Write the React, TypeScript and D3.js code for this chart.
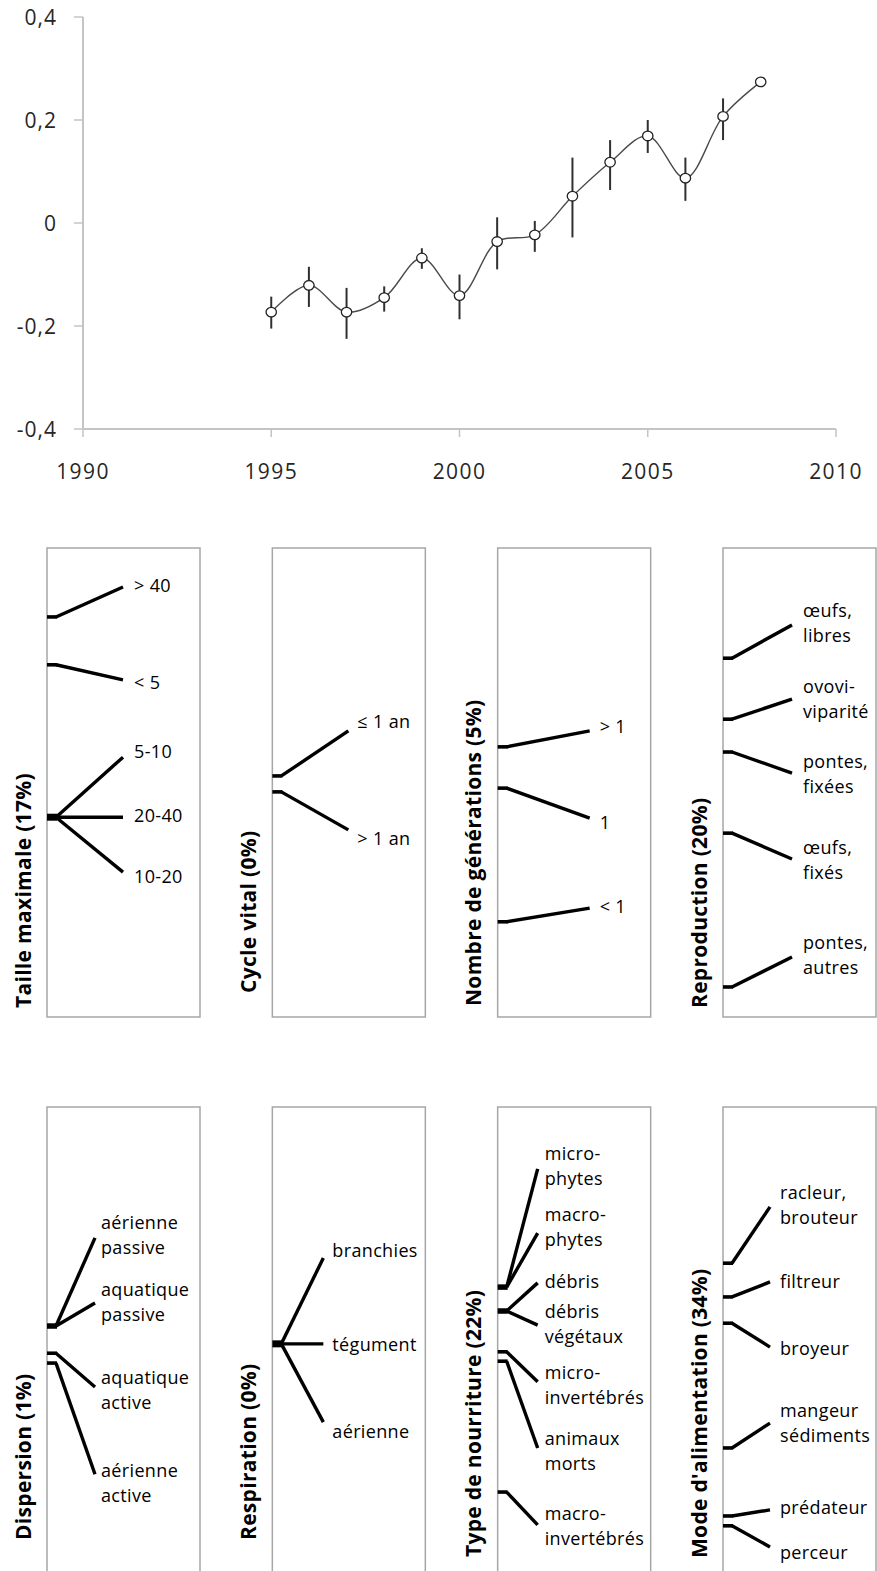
import React from 'react';
import * as d3 from 'd3';

// ---------- Top chart data ----------
const years = [1995, 1996, 1997, 1998, 1999, 2000, 2001, 2002, 2003, 2004, 2005, 2006, 2007, 2008];
const meanValues = [-0.173, -0.121, -0.173, -0.145, -0.068, -0.141, -0.036, -0.023, 0.052, 0.118, 0.169, 0.087, 0.207, 0.274];
const errHigh = [-0.143, -0.085, -0.126, -0.123, -0.049, -0.100, 0.011, 0.004, 0.127, 0.161, 0.200, 0.127, 0.242, 0.274];
const errLow = [-0.205, -0.163, -0.225, -0.172, -0.089, -0.187, -0.090, -0.056, -0.028, 0.064, 0.136, 0.043, 0.161, 0.274];
const yTicks = [0.4, 0.2, 0, -0.2, -0.4];
const xTicks = [1990, 1995, 2000, 2005, 2010];

// ---------- Trait panels (positions on a 0-100 scale from panel top) ----------
type Branch = { label: string[]; to: number; lab?: number };
type Node = { at: number; branches: Branch[] };

const tailleMaximale: Node[] = [
  { at: 14.7, branches: [{ label: ['> 40'], to: 8.3, lab: 7.9 }] },
  { at: 24.9, branches: [{ label: ['< 5'], to: 28.1, lab: 28.6 }] },
  {
    at: 57.4,
    branches: [
      { label: ['5-10'], to: 44.6, lab: 43.3 },
      { label: ['20-40'], to: 57.4, lab: 57.1 },
      { label: ['10-20'], to: 69.1, lab: 70.1 },
    ],
  },
];
const cycleVital: Node[] = [
  { at: 48.6, branches: [{ label: ['≤ 1 an'], to: 39.0, lab: 37.1 }] },
  { at: 52.0, branches: [{ label: ['> 1 an'], to: 60.1, lab: 62.0 }] },
];
const nombreGenerations: Node[] = [
  { at: 42.4, branches: [{ label: ['> 1'], to: 39.0, lab: 38.0 }] },
  { at: 51.2, branches: [{ label: ['1'], to: 57.6, lab: 58.6 }] },
  { at: 79.7, branches: [{ label: ['< 1'], to: 76.8, lab: 76.5 }] },
];
const reproduction: Node[] = [
  { at: 23.5, branches: [{ label: ['œufs,', 'libres'], to: 16.4, lab: 16.0 }] },
  { at: 36.5, branches: [{ label: ['ovovi-', 'viparité'], to: 32.2, lab: 32.1 }] },
  { at: 43.5, branches: [{ label: ['pontes,', 'fixées'], to: 48.0, lab: 48.2 }] },
  { at: 60.8, branches: [{ label: ['œufs,', 'fixés'], to: 66.3, lab: 66.5 }] },
  { at: 93.6, branches: [{ label: ['pontes,', 'autres'], to: 87.2, lab: 86.7 }] },
];
const dispersion: Node[] = [
  {
    at: 46.7,
    branches: [
      { label: ['aérienne', 'passive'], to: 27.9, lab: 27.2 },
      { label: ['aquatique', 'passive'], to: 41.8, lab: 41.5 },
    ],
  },
  { at: 52.5, branches: [{ label: ['aquatique', 'active'], to: 59.7, lab: 60.4 }] },
  { at: 54.6, branches: [{ label: ['aérienne', 'active'], to: 78.3, lab: 80.2 }] },
];
const respiration: Node[] = [
  {
    at: 50.5,
    branches: [
      { label: ['branchies'], to: 32.2, lab: 30.5 },
      { label: ['tégument'], to: 50.5, lab: 50.7 },
      { label: ['aérienne'], to: 67.2, lab: 69.3 },
    ],
  },
];
const typeNourriture: Node[] = [
  {
    at: 38.4,
    branches: [
      { label: ['micro-', 'phytes'], to: 13.2, lab: 12.6 },
      { label: ['macro-', 'phytes'], to: 26.9, lab: 25.5 },
    ],
  },
  {
    at: 43.5,
    branches: [
      { label: ['débris'], to: 37.5, lab: 37.3 },
      { label: ['débris', 'végétaux'], to: 46.5, lab: 46.3 },
    ],
  },
  { at: 52.2, branches: [{ label: ['micro-', 'invertébrés'], to: 58.6, lab: 59.2 }] },
  { at: 54.2, branches: [{ label: ['animaux', 'morts'], to: 72.7, lab: 73.3 }] },
  { at: 82.1, branches: [{ label: ['macro-', 'invertébrés'], to: 89.1, lab: 89.4 }] },
];
const modeAlimentation: Node[] = [
  { at: 33.3, branches: [{ label: ['racleur,', 'brouteur'], to: 21.3, lab: 20.9 }] },
  { at: 40.5, branches: [{ label: ['filtreur'], to: 37.3, lab: 37.3 }] },
  { at: 46.1, branches: [{ label: ['broyeur'], to: 51.2, lab: 51.6 }] },
  { at: 72.7, branches: [{ label: ['mangeur', 'sédiments'], to: 67.4, lab: 67.3 }] },
  { at: 87.2, branches: [{ label: ['prédateur'], to: 85.9, lab: 85.3 }] },
  { at: 89.3, branches: [{ label: ['perceur'], to: 93.8, lab: 94.9 }] },
];

const panelTitles = [
  'Taille maximale (17%)',
  'Cycle vital (0%)',
  'Nombre de générations (5%)',
  'Reproduction (20%)',
  'Dispersion (1%)',
  'Respiration (0%)',
  'Type de nourriture (22%)',
  "Mode d'alimentation (34%)",
];
const panelNodes = [
  tailleMaximale,
  cycleVital,
  nombreGenerations,
  reproduction,
  dispersion,
  respiration,
  typeNourriture,
  modeAlimentation,
];

// layout (not data)
const panelReach = [76, 76, 92, 69, 48, 51, 40, 47];
const panelLabelX = [87, 85, 102, 80, 54, 60, 47, 57];
const titleStart = [1008, 993, 1006, 1008, 1540, 1540, 1557, 1558];

const W = 877;
const H = 1571;
const FONT = "'Open Sans', 'DejaVu Sans', sans-serif";

export default function App() {
  // ---- top chart scales ----
  const x = d3.scaleLinear().domain([1990, 2010]).range([83, 836]);
  const y = d3.scaleLinear().domain([-0.4, 0.4]).range([429, 17]);
  const pts = years.map((yr, i) => [x(yr), y(meanValues[i])] as [number, number]);
  const linePath = d3.line().curve(d3.curveCatmullRom.alpha(0.5))(pts) || '';

  // ---- panels ----
  const panelLeft = d3.scaleLinear().domain([0, 3]).range([47, 723]);
  const panelW = 153;
  const rowTop = [548, 1107];
  const panelH = 469;

  const axisGray = '#c4c4c4';
  const textCol = '#262626';

  return (
    <svg
      width={W}
      height={H}
      viewBox={`0 0 ${W} ${H}`}
      style={{ position: 'absolute', left: 0, top: 0, background: '#fff' }}
      fontFamily={FONT}
    >
      <rect x={0} y={0} width={W} height={H} fill="#fff" />
      {/* ---- Top chart ---- */}
      <g>
        <line x1={x(1990)} x2={x(1990)} y1={y(0.4)} y2={y(-0.4)} stroke={axisGray} strokeWidth={2} />
        <line x1={x(1990)} x2={x(2010)} y1={y(-0.4)} y2={y(-0.4)} stroke={axisGray} strokeWidth={2} />
        {yTicks.map((t) => (
          <g key={'yt' + t}>
            <line x1={x(1990) - 9} x2={x(1990)} y1={y(t)} y2={y(t)} stroke={axisGray} strokeWidth={1.5} />
            <text
              x={57}
              y={y(t)}
              dy="0.36em"
              textAnchor="end"
              fontSize={21}
              letterSpacing={1}
              fill={textCol}
            >
              {t === 0 ? '0' : d3.format('.1f')(t).replace('.', ',').replace('−', '-')}
            </text>
          </g>
        ))}
        {xTicks.map((t) => (
          <g key={'xt' + t}>
            <line x1={x(t)} x2={x(t)} y1={y(-0.4)} y2={y(-0.4) + 8} stroke={axisGray} strokeWidth={1.5} />
            <text x={x(t)} y={471} dy="0.36em" textAnchor="middle" fontSize={21} letterSpacing={1.4} fill={textCol}>
              {t}
            </text>
          </g>
        ))}
        {years.map((yr, i) =>
          errHigh[i] !== errLow[i] ? (
            <line
              key={'e' + yr}
              x1={x(yr)}
              x2={x(yr)}
              y1={y(errHigh[i])}
              y2={y(errLow[i])}
              stroke="#303030"
              strokeWidth={2}
            />
          ) : null
        )}
        <path d={linePath} fill="none" stroke="#4a4a4a" strokeWidth={1.4} />
        {pts.map((p, i) => (
          <ellipse
            key={'c' + i}
            cx={p[0]}
            cy={p[1]}
            rx={5.2}
            ry={4.8}
            fill="#fff"
            stroke="#222"
            strokeWidth={1.3}
          />
        ))}
      </g>

      {/* ---- Panels ---- */}
      {panelNodes.map((nodes, pi) => {
        const row = Math.floor(pi / 4);
        const col = pi % 4;
        const left = panelLeft(col);
        const top = rowTop[row];
        const sy = d3.scaleLinear().domain([0, 100]).range([top, top + panelH]);
        const stubEnd = left + 9;
        const endX = left + panelReach[pi];
        const labX = left + panelLabelX[pi];
        return (
          <g key={'p' + pi}>
            <rect x={left} y={top} width={panelW} height={panelH} fill="none" stroke="#a6a6a6" strokeWidth={1.5} />
            <text
              transform={`translate(${left - 24},${titleStart[pi]}) rotate(-90)`}
              dy="0.36em"
              fontSize={21}
              fontWeight="bold"
              letterSpacing={0.3}
              fill="#000"
            >
              {panelTitles[pi]}
            </text>
            {nodes.map((n, ni) => (
              <g key={'n' + ni}>
                {n.branches.map((b, bi) => (
                  <line
                    key={'b' + bi}
                    x1={stubEnd}
                    y1={sy(n.at)}
                    x2={endX}
                    y2={sy(b.to)}
                    stroke="#000"
                    strokeWidth={3.4}
                  />
                ))}
                <line
                  x1={left}
                  x2={stubEnd + 1}
                  y1={sy(n.at)}
                  y2={sy(n.at)}
                  stroke="#000"
                  strokeWidth={n.branches.length === 1 ? 3.6 : n.branches.length === 2 ? 5.5 : 7}
                />
                {n.branches.map((b, bi) => {
                  const cy = sy(b.lab ?? b.to);
                  const lh = 25;
                  const y0 = cy - ((b.label.length - 1) * lh) / 2;
                  return (
                    <text
                      key={'t' + bi}
                      x={labX}
                      fontSize={18}
                      letterSpacing={0.35}
                      fill="#000"
                    >
                      {b.label.map((l, li) => (
                        <tspan key={li} x={labX} y={y0 + li * lh} dy="0.36em">
                          {l}
                        </tspan>
                      ))}
                    </text>
                  );
                })}
              </g>
            ))}
          </g>
        );
      })}
    </svg>
  );
}
